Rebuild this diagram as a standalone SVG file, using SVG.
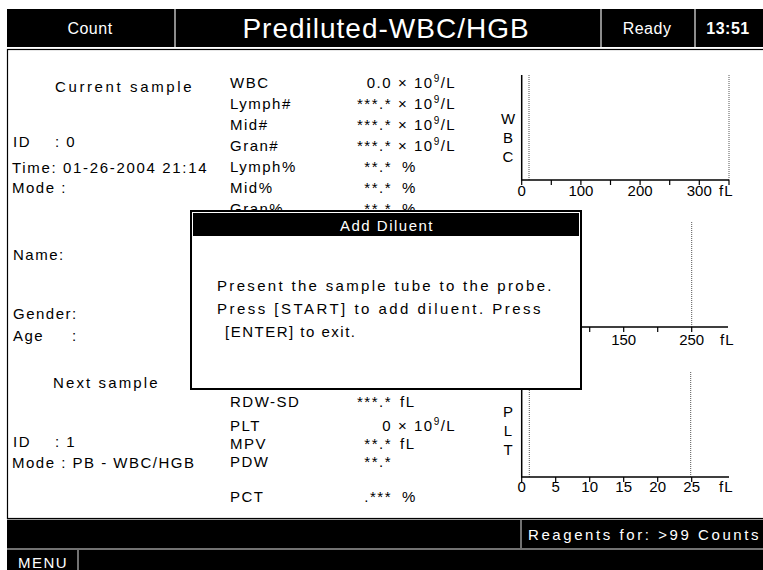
<svg xmlns="http://www.w3.org/2000/svg" width="763" height="570" viewBox="0 0 763 570">
<style>
.t{font-family:"Liberation Sans",Arial,sans-serif;font-size:15px;letter-spacing:1.5px;fill:#000}
.w{fill:#fff}
.ax{stroke:#000;stroke-width:1.5;fill:none}
.dot{stroke:#555;stroke-width:1;stroke-dasharray:1,1;fill:none}
.tk{stroke:#000;stroke-width:1.2}
.sep{stroke:#bbb;stroke-width:1.5}
.lab{text-anchor:middle;letter-spacing:0}
</style>
<rect x="0" y="0" width="763" height="570" fill="#fff"/>

<g id="header">
<rect x="7" y="9" width="756" height="38" fill="#000"/>
<line class="sep" x1="175" y1="9" x2="175" y2="47"/>
<line class="sep" x1="601" y1="9" x2="601" y2="47"/>
<line class="sep" x1="695" y1="9" x2="695" y2="47"/>
<text class="t w" x="90" y="34" text-anchor="middle" style="font-size:16px;letter-spacing:0.5px">Count</text>
<text class="t w" x="386" y="38" text-anchor="middle" style="font-size:28px;letter-spacing:1px">Prediluted-WBC/HGB</text>
<text class="t w" x="647" y="34" text-anchor="middle" style="font-size:16px;letter-spacing:0.5px">Ready</text>
<text class="t w" x="728" y="34" text-anchor="middle" style="font-size:16px;font-weight:bold;letter-spacing:0.5px">13:51</text>
</g>

<rect x="7.5" y="49.5" width="760" height="469" fill="#fff" stroke="#000" stroke-width="1.2"/>

<g id="current-sample">
<text class="t" x="55" y="92" textLength="138">Current sample</text>
<text class="t" x="13" y="147">ID<tspan x="55">: 0</tspan></text>
<text class="t" x="12" y="173" textLength="196">Time: 01-26-2004 21:14</text>
<text class="t" x="12" y="193">Mode :</text>
<text class="t" x="13" y="260">Name:</text>
<text class="t" x="13" y="319">Gender:</text>
<text class="t" x="13" y="341">Age<tspan x="72">:</tspan></text>
</g>

<g id="next-sample">
<text class="t" x="53" y="388" textLength="106">Next sample</text>
<text class="t" x="13" y="447">ID<tspan x="55">: 1</tspan></text>
<text class="t" x="12" y="468">Mode : PB - WBC/HGB</text>
</g>

<g id="wbc-params">
<text class="t" x="230" y="88">WBC</text>
<text class="t" x="392" y="88" text-anchor="end">0.0</text>
<text class="t" x="398" y="88">× 10<tspan font-size="10" dy="-6">9</tspan><tspan dy="6">/L</tspan></text>
<text class="t" x="230" y="109">Lymph#</text>
<text class="t" x="392" y="109" text-anchor="end">***.*</text>
<text class="t" x="398" y="109">× 10<tspan font-size="10" dy="-6">9</tspan><tspan dy="6">/L</tspan></text>
<text class="t" x="230" y="130">Mid#</text>
<text class="t" x="392" y="130" text-anchor="end">***.*</text>
<text class="t" x="398" y="130">× 10<tspan font-size="10" dy="-6">9</tspan><tspan dy="6">/L</tspan></text>
<text class="t" x="230" y="151">Gran#</text>
<text class="t" x="392" y="151" text-anchor="end">***.*</text>
<text class="t" x="398" y="151">× 10<tspan font-size="10" dy="-6">9</tspan><tspan dy="6">/L</tspan></text>
<text class="t" x="230" y="172">Lymph%</text>
<text class="t" x="392" y="172" text-anchor="end">**.*</text>
<text class="t" x="402" y="172">%</text>
<text class="t" x="230" y="193">Mid%</text>
<text class="t" x="392" y="193" text-anchor="end">**.*</text>
<text class="t" x="402" y="193">%</text>
<text class="t" x="230" y="214">Gran%</text>
<text class="t" x="392" y="214" text-anchor="end">**.*</text>
<text class="t" x="402" y="214">%</text>
</g>

<g id="plt-params">
<text class="t" x="230" y="407">RDW-SD</text>
<text class="t" x="392" y="407" text-anchor="end">***.*</text>
<text class="t" x="400" y="407">fL</text>
<text class="t" x="230" y="431">PLT</text>
<text class="t" x="392" y="431" text-anchor="end">0</text>
<text class="t" x="398" y="431">× 10<tspan font-size="10" dy="-6">9</tspan><tspan dy="6">/L</tspan></text>
<text class="t" x="230" y="449">MPV</text>
<text class="t" x="392" y="449" text-anchor="end">**.*</text>
<text class="t" x="400" y="449">fL</text>
<text class="t" x="230" y="467">PDW</text>
<text class="t" x="392" y="467" text-anchor="end">**.*</text>
<text class="t" x="230" y="502">PCT</text>
<text class="t" x="392" y="502" text-anchor="end">.***</text>
<text class="t" x="402" y="502">%</text>
</g>

<g id="wbc-chart">
<line class="dot" x1="529" y1="75" x2="529" y2="180"/>
<line class="dot" x1="729" y1="75" x2="729" y2="180"/>
<polyline class="ax" points="521.7,75 521.7,180 729,180"/>
<g class="tk">
<line x1="521.7" y1="180" x2="521.7" y2="185"/><line x1="551.3" y1="180" x2="551.3" y2="185"/>
<line x1="580.9" y1="180" x2="580.9" y2="185"/><line x1="610.5" y1="180" x2="610.5" y2="185"/>
<line x1="640.1" y1="180" x2="640.1" y2="185"/><line x1="669.7" y1="180" x2="669.7" y2="185"/>
<line x1="699.3" y1="180" x2="699.3" y2="185"/><line x1="729" y1="180" x2="729" y2="185"/>
</g>
<text class="t lab" x="508" y="124">W</text>
<text class="t lab" x="508" y="143">B</text>
<text class="t lab" x="508" y="162">C</text>
<text class="t lab" x="521.7" y="196">0</text>
<text class="t lab" x="580.9" y="196">100</text>
<text class="t lab" x="640.1" y="196">200</text>
<text class="t lab" x="699.3" y="196">300</text>
<text class="t" x="719" y="196" style="letter-spacing:1px">fL</text>
</g>

<g id="rbc-chart">
<line class="dot" x1="691.7" y1="222" x2="691.7" y2="327"/>
<polyline class="ax" points="521.7,222 521.7,327 728,327"/>
<g class="tk">
<line x1="555.7" y1="327" x2="555.7" y2="332"/><line x1="589.7" y1="327" x2="589.7" y2="332"/>
<line x1="623.7" y1="327" x2="623.7" y2="332"/><line x1="657.7" y1="327" x2="657.7" y2="332"/>
<line x1="691.7" y1="327" x2="691.7" y2="332"/>
</g>
<text class="t lab" x="623.7" y="345">150</text>
<text class="t lab" x="691.7" y="345">250</text>
<text class="t" x="720" y="345" style="letter-spacing:1px">fL</text>
</g>

<g id="plt-chart">
<line class="dot" x1="529.3" y1="372" x2="529.3" y2="477"/>
<line class="dot" x1="690.7" y1="372" x2="690.7" y2="477"/>
<polyline class="ax" points="521.7,372 521.7,477 729,477"/>
<g class="tk">
<line x1="521.7" y1="477" x2="521.7" y2="482"/><line x1="555.7" y1="477" x2="555.7" y2="482"/>
<line x1="589.7" y1="477" x2="589.7" y2="482"/><line x1="623.7" y1="477" x2="623.7" y2="482"/>
<line x1="657.7" y1="477" x2="657.7" y2="482"/><line x1="691.7" y1="477" x2="691.7" y2="482"/>
</g>
<text class="t lab" x="508" y="417">P</text>
<text class="t lab" x="508" y="436">L</text>
<text class="t lab" x="508" y="455">T</text>
<text class="t lab" x="521.7" y="492">0</text>
<text class="t lab" x="555.7" y="492">5</text>
<text class="t lab" x="589.7" y="492">10</text>
<text class="t lab" x="623.7" y="492">15</text>
<text class="t lab" x="657.7" y="492">20</text>
<text class="t lab" x="691.7" y="492">25</text>
<text class="t" x="719" y="492" style="letter-spacing:1px">fL</text>
</g>

<g id="dialog">
<rect x="191" y="211" width="390" height="178" fill="#fff" stroke="#000" stroke-width="2"/>
<rect x="193" y="213" width="386" height="23" fill="#000"/>
<text class="t w" x="387" y="231" text-anchor="middle">Add Diluent</text>
<text class="t" x="217" y="291" textLength="336">Present the sample tube to the probe.</text>
<text class="t" x="217" y="314" textLength="325">Press [START] to add diluent. Press</text>
<text class="t" x="225" y="337">[ENTER] to exit.</text>
</g>

<g id="footer">
<rect x="7" y="519" width="756" height="51" fill="#000"/>
<line x1="7" y1="519.5" x2="763" y2="519.5" stroke="#999" stroke-width="1.2"/>
<line x1="7" y1="549" x2="763" y2="549" stroke="#999" stroke-width="1.5"/>
<line x1="521" y1="520" x2="521" y2="548" stroke="#999" stroke-width="1.5"/>
<line x1="78" y1="550" x2="78" y2="570" stroke="#999" stroke-width="1.5"/>
<text class="t w" x="528" y="540" textLength="232">Reagents for: &gt;99 Counts</text>
<text class="t w" x="18" y="568">MENU</text>
</g>
</svg>
